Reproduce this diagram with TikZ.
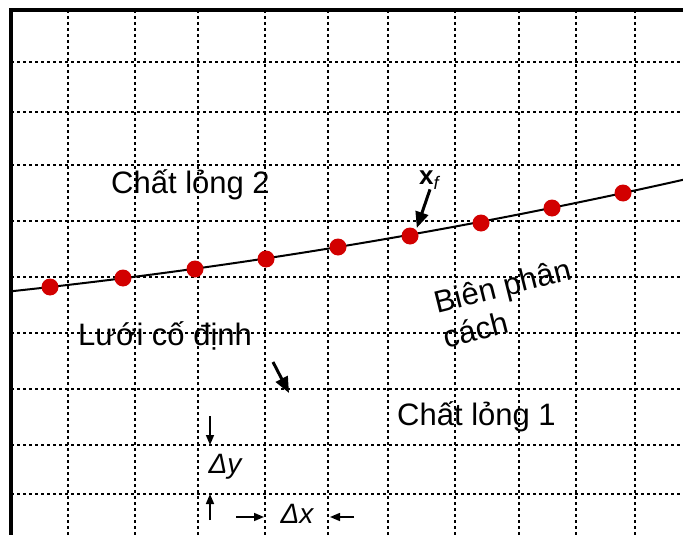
\documentclass[tikz,border=0pt]{standalone}
\usepackage{fontspec}
\setmainfont{Liberation Sans}
\usetikzlibrary{arrows.meta,positioning,calc}
\definecolor{DotRed}{HTML}{D20000}
\definecolor{Ink}{HTML}{000000}

\begin{document}
\begin{tikzpicture}[x=1pt,y=-1pt,
  font=\fontsize{31}{36}\selectfont,
  gridline/.style={draw=Ink,line width=2.6pt,dash pattern=on 2.6pt off 3.4pt},
  frame/.style={draw=Ink,line width=3.4pt},
  iface/.style={draw=Ink,line width=2pt},
  marker/.style={circle,fill=DotRed,inner sep=0pt,minimum size=17pt},
  label/.style={inner sep=0pt,text=Ink},
  pointer/.style={-{Triangle[length=16pt,width=13pt]},draw=Ink,line width=3pt},
  spacing/.style={-{Triangle[length=10pt,width=8pt]},draw=Ink,line width=1.5pt}
]
  \useasboundingbox (0,0) rectangle (683,535);

  % fixed grid
  \foreach \gx in {68,135,198,265,328,388,455,519,576,635}
    \draw[gridline] (\gx,10) -- (\gx,535);
  \foreach \gy in {62,112,165,221,277,333,389,445,494}
    \draw[gridline] (11,\gy) -- (683,\gy);
  \draw[frame] (11,535) -- (11,10) -- (683,10);

  % interface and its marker points
  \draw[iface] plot[domain=11:683,samples=60]
    (\x,{292.45-0.1046*\x-0.883*(\x/100)*(\x/100)});
  \foreach \px/\py [count=\i] in {50/287,123/278,195/269,266/259,338/247,
      410/236,481/223,552/208,623/193}
    \node[marker] (d\i) at (\px,\py) {};

  % labels
  \node[label,anchor=base west] (fluid2) at (111,193) {Chất lỏng 2};
  \node[label,anchor=base west] (mesh) at (78,345) {Lưới cố định};
  \node[label,anchor=base west] (fluid1) at (397,425) {Chất lỏng 1};
  \node[label,rotate=14,align=left] (iflabel) at (507,303)
    {Biên phân\\cách};
  \node[label,font=\fontsize{26}{28}\selectfont] (xf) at (430,180)
    {\textbf{x}\textsubscript{\textit{f}}};
  \draw[pointer,shorten >=2pt] (xf.south) -- (d6.north east);

  \coordinate (meshtail) at (273,362);
  \coordinate (meshtip) at (289,393);
  \draw[pointer] (meshtail) -- (meshtip);

  % cell size
  \node[label,font=\fontsize{28}{30}\selectfont\itshape] (dy) at (225,467) {Δy};
  \node[label,font=\fontsize{28}{30}\selectfont\itshape] (dx) at (297,514) {Δx};
  \coordinate (dytop) at (210,416);
  \coordinate (dytopin) at (210,445);
  \coordinate (dybot) at (210,520);
  \coordinate (dybotin) at (210,494);
  \coordinate (dxleft) at (236,517);
  \coordinate (dxleftin) at (264,517);
  \coordinate (dxright) at (354,517);
  \coordinate (dxrightin) at (330,517);
  \draw[spacing] (dytop) -- (dytopin);
  \draw[spacing] (dybot) -- (dybotin);
  \draw[spacing] (dxleft) -- (dxleftin);
  \draw[spacing] (dxright) -- (dxrightin);
\end{tikzpicture}
\end{document}
